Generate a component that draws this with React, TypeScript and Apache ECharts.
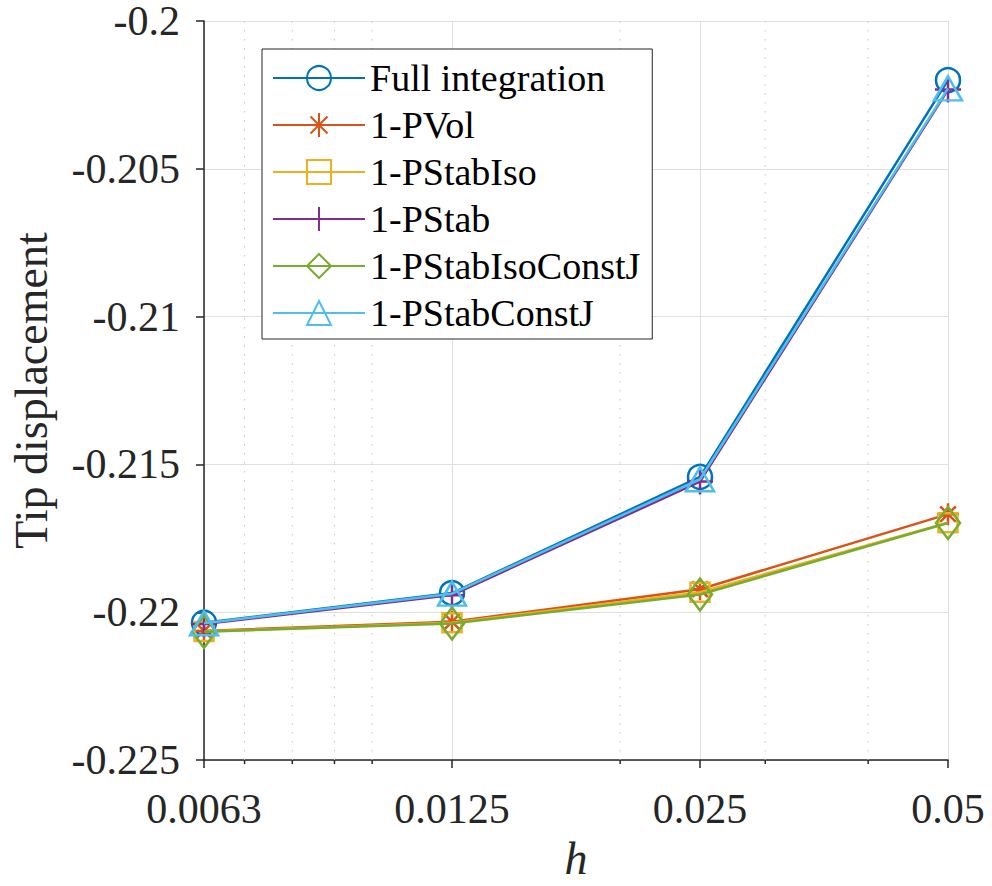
import React, { useEffect, useRef } from "react";
import * as echarts from "echarts";

// ---- data ----
const hValues = [0.00625, 0.0125, 0.025, 0.05];
const xTickLabels = ["0.0063", "0.0125", "0.025", "0.05"];
const minorGridH = [0.007, 0.008, 0.009, 0.01, 0.02, 0.03, 0.04];

const seriesNames = [
  "Full integration",
  "1-PVol",
  "1-PStabIso",
  "1-PStab",
  "1-PStabIsoConstJ",
  "1-PStabConstJ",
];
const fullIntegration = [-0.22035, -0.21935, -0.21542, -0.202];
const pVol = [-0.22063, -0.22032, -0.21922, -0.21668];
const pStabIso = [-0.22065, -0.22035, -0.21932, -0.21697];
const pStab = [-0.2204, -0.21942, -0.21558, -0.20232];
const pStabIsoConstJ = [-0.22066, -0.22038, -0.2194, -0.21698];
const pStabConstJ = [-0.22037, -0.21937, -0.2155, -0.20228];

const yMin = -0.225;
const yMax = -0.2;
const yInterval = 0.005;

// ---- styling ----
const FONT = "serif";
const TEXT = "#262626";
const colors = ["#0072BD", "#D95319", "#EDB120", "#7E2F8E", "#77AC30", "#4DBEEE"];
const symbols = [
  "circle",
  "path://M5,0 L5,10 M0,5 L10,5 M1.46,1.46 L8.54,8.54 M1.46,8.54 L8.54,1.46",
  "rect",
  "path://M5,0 L5,10 M0,5 L10,5",
  "path://M3,0 L6,4 L3,8 L0,4 Z",
  "triangle",
];
const symbolSizes: any[] = [24, 22, 19, 26, 32, [28, 24]];
const seriesData = [fullIntegration, pVol, pStabIso, pStab, pStabIsoConstJ, pStabConstJ];

const toX = (h: number) => Math.log2(h / hValues[0]);

export default function App() {
  const ref = useRef<HTMLDivElement>(null);

  useEffect(() => {
    if (!ref.current) return;
    const chart = echarts.init(ref.current, undefined, { renderer: "svg" });

    const lineSeries = seriesNames.map((name, i) => ({
      name,
      type: "line",
      data: seriesData[i].map((v, j) => [toX(hValues[j]), v]),
      symbol: symbols[i],
      symbolSize: symbolSizes[i],
      symbolKeepAspect: true,
      showAllSymbol: true,
      clip: false,
      z: 3 + i,
      lineStyle: { color: colors[i], width: 2.5 },
      itemStyle: { color: "rgba(0,0,0,0)", borderColor: colors[i], borderWidth: 2.5 },
      emphasis: { disabled: true },
    }));

    const option: any = {
      animation: false,
      backgroundColor: "#fff",
      textStyle: { fontFamily: FONT },
      grid: { left: 200, right: 44, top: 13, bottom: 124, containLabel: false },
      xAxis: {
        type: "value",
        min: 0,
        max: 3,
        interval: 1,
        name: "h",
        nameLocation: "middle",
        nameGap: 72,
        nameTextStyle: { fontFamily: FONT, fontSize: 46, fontStyle: "italic", color: TEXT },
        axisLine: { show: true, onZero: false, lineStyle: { color: TEXT, width: 1.5 } },
        axisTick: { show: true, inside: false, length: 8, lineStyle: { color: TEXT, width: 1.5 } },
        axisLabel: {
          margin: 28,
          fontFamily: FONT,
          fontSize: 42,
          color: TEXT,
          formatter: (v: number) => xTickLabels[Math.round(v)] ?? "",
        },
        splitLine: { show: true, lineStyle: { color: "#dfdfdf", width: 1 } },
      },
      yAxis: {
        type: "value",
        min: yMin,
        max: yMax,
        interval: yInterval,
        name: "Tip displacement",
        nameLocation: "middle",
        nameGap: 150,
        nameTextStyle: { fontFamily: FONT, fontSize: 46, color: TEXT },
        axisLine: { show: true, onZero: false, lineStyle: { color: TEXT, width: 1.5 } },
        axisTick: { show: true, inside: false, length: 8, lineStyle: { color: TEXT, width: 1.5 } },
        axisLabel: { margin: 24, fontFamily: FONT, fontSize: 42, color: TEXT },
        splitLine: { show: true, lineStyle: { color: "#dfdfdf", width: 1 } },
      },
      legend: {
        data: seriesNames,
        orient: "vertical",
        left: 262,
        top: 49,
        padding: [10, 12, 7, 10],
        itemGap: 9,
        itemWidth: 92,
        itemHeight: 30,
        backgroundColor: "#fff",
        borderColor: TEXT,
        borderWidth: 1,
        selectedMode: false,
        textStyle: { fontFamily: FONT, fontSize: 38, color: "#000", lineHeight: 38 },
        z: 20,
      },
      series: [
        {
          type: "custom",
          name: "minorGrid",
          silent: true,
          z: 1,
          clip: false,
          data: minorGridH.map((h) => [toX(h), yMin]),
          encode: { x: 0, y: 1 },
          renderItem: (_params: any, api: any) => {
            const x = api.value(0);
            const top = api.coord([x, yMax]);
            const bottom = api.coord([x, yMin]);
            return {
              type: "group",
              children: [
                {
                  type: "line",
                  shape: { x1: top[0], y1: top[1], x2: bottom[0], y2: bottom[1] },
                  style: { stroke: "#c4c4c4", lineWidth: 1, lineDash: [1.5, 7.5] },
                },
                {
                  type: "line",
                  shape: { x1: bottom[0], y1: bottom[1], x2: bottom[0], y2: bottom[1] + 4 },
                  style: { stroke: TEXT, lineWidth: 1.5 },
                },
              ],
            };
          },
        },
        ...lineSeries,
      ],
    };

    chart.setOption(option);
    return () => chart.dispose();
  }, []);

  return (
    <div
      ref={ref}
      style={{ position: "fixed", left: 0, top: 0, width: 992, height: 886, background: "#fff" }}
    />
  );
}
